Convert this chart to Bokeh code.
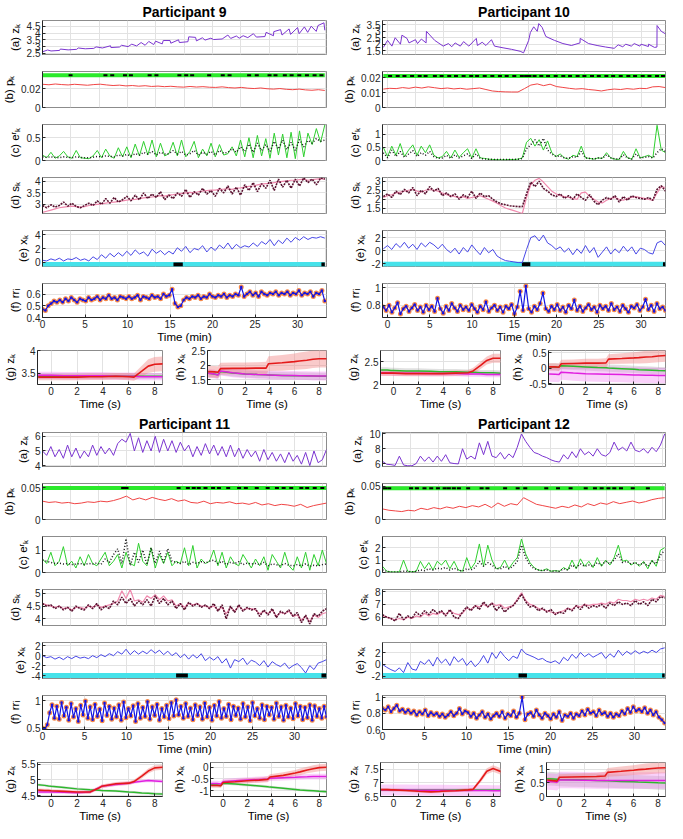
import numpy as np
from bokeh.plotting import figure
from bokeh.models import Range1d, FixedTicker, CustomJSTickFormatter
from bokeh.layouts import column, row
from bokeh.embed import file_html
from bokeh.resources import INLINE

# ---------------- DATA ----------------
TG = [-1, -0.5, -0.2, 0, 1, 2, 3, 3.7, 3.9, 5, 6, 6.4, 7, 7.5, 8, 8.7]

# Participant 9
P9_span = [0, 33.2]
P9_z = [2.62,2.68,2.72,2.76,2.80,2.84,2.87,2.90,2.93,2.97,3.00,3.05,3.10,3.15,3.20,3.25,3.30,
        3.36,3.42,3.48,3.52,3.56,3.60,3.62,3.66,3.70,3.74,3.80,3.85,3.90,3.95,4.05,4.12,4.20]
P9_z_peak_t = [0.6,2.1,4.2,6.3,8.0,9.3,10.5,11.6,12.5,13.3,14.2,15.0,16.0,17.2,18.0,18.8,19.8,21.8,22.8,
               23.6,24.8,26.3,27.2,28.0,29.0,30.0,30.8,31.6,32.4,33.1]
P9_z_peak_v = [2.75,2.82,2.9,2.98,3.06,3.1,3.18,3.3,3.38,3.4,3.45,3.45,3.5,3.72,3.68,3.65,3.62,3.85,3.78,
               3.8,3.95,4.05,4.1,4.25,4.3,4.4,4.45,4.5,4.55,4.75]
P9_p = [0.0245,0.0240,0.0248,0.0242,0.0238,0.0245,0.0240,0.0235,0.0242,0.0246,0.0238,0.0232,0.0236,0.0228,0.0232,
        0.0225,0.0230,0.0222,0.0226,0.0220,0.0224,0.0218,0.0215,0.0222,0.0216,0.0220,0.0214,0.0212,0.0218,0.0210,
        0.0206,0.0212,0.0204,0.0200,0.0206,0.0198,0.0194,0.0200,0.0192,0.0188,0.0194,0.0186,0.0182,0.0188,0.0180]
P9_p_level = [0.034]
P9_p_events = [3.3,7.4,8.2,9.7,10.4,12.6,13.4,16.1,16.9,17.6,19.6,21.2,22.0,24.3,25.2,26.7,27.4,28.5,29.3,30.2,31.1,32.0,32.8]
P9_er = [0.12,0.06,0.18,0.05,0.10,0.20,0.08,0.05,0.22,0.06,0.05,
         0.04,0.10,0.22,0.06,0.25,0.10,0.05,0.28,0.08,0.30,
         0.06,0.36,0.10,0.42,0.12,0.45,0.08,0.38,0.10,0.15,
         0.40,0.10,0.45,0.08,0.20,0.42,0.06,0.25,0.10,0.38,
         0.08,0.35,0.12,0.15,0.30,0.10,0.45,0.08,0.50,0.06,
         0.55,0.10,0.48,0.05,0.60,0.12,0.58,0.06,0.62,0.04,
         0.65,0.08,0.60,0.35,0.70,0.40,0.78]
P9_er_est = [0.08,0.07,0.08,0.07,0.06,0.08,0.07,0.06,0.08,0.07,0.06,
             0.06,0.07,0.09,0.08,0.10,0.09,0.08,0.12,0.10,0.13,
             0.10,0.15,0.12,0.18,0.14,0.20,0.12,0.18,0.14,0.15,
             0.22,0.14,0.20,0.12,0.15,0.22,0.12,0.18,0.14,0.20,
             0.12,0.22,0.16,0.18,0.26,0.18,0.30,0.20,0.36,0.18,
             0.38,0.22,0.35,0.20,0.42,0.25,0.45,0.24,0.40,0.22,
             0.46,0.30,0.44,0.38,0.48,0.42,0.45]
P9_s_est = [2.95,2.85,2.98,2.88,2.95,3.10,2.92,3.05,2.90,2.85,2.95,
            3.05,2.95,3.15,3.00,3.25,3.05,3.30,3.10,3.20,3.35,
            3.15,3.40,3.20,3.50,3.25,3.45,3.30,3.55,3.20,3.40,
            3.25,3.50,3.35,3.65,3.30,3.55,3.40,3.70,3.45,3.60,
            3.35,3.70,3.50,3.80,3.45,3.75,3.40,3.85,3.60,3.95,
            3.55,3.90,3.70,4.05,3.60,4.10,3.75,4.05,3.70,4.10,
            3.80,4.15,3.95,4.10,3.85,4.15,4.10]
P9_s = [2.65,2.70,2.75,2.80,2.85,2.88,2.90,2.92,2.90,2.88,2.90,
        2.95,2.98,3.00,3.02,3.05,3.08,3.10,3.12,3.15,3.18,
        3.20,3.22,3.25,3.28,3.30,3.32,3.35,3.38,3.36,3.40,
        3.42,3.45,3.48,3.50,3.52,3.50,3.55,3.58,3.60,3.62,
        3.62,3.65,3.66,3.68,3.65,3.70,3.72,3.75,3.78,3.80,
        3.85,3.88,3.90,3.92,3.95,3.98,4.00,4.02,4.05,4.05,
        4.08,4.10,4.05,4.08,4.10,4.12,4.10]
P9_x = [0.3,0.2,0.5,0.3,0.6,0.2,0.5,0.4,0.7,0.3,0.5,
        0.2,0.8,0.4,1.1,0.6,1.3,0.8,1.4,0.9,1.6,
        1.0,1.8,1.2,1.5,0.9,1.9,1.3,1.7,1.1,1.6,
        1.2,2.1,1.6,2.3,1.4,2.0,1.8,2.4,1.5,2.2,
        1.7,2.5,2.0,2.8,1.9,2.6,2.1,2.4,2.2,2.8,
        2.3,3.0,2.6,3.3,2.4,3.2,2.7,3.5,2.9,3.6,
        3.2,3.7,3.3,3.6,3.5,3.7,3.5]
P9_x_level = [-0.3]
P9_x_marks_start = [15.4, 32.8]
P9_x_marks_end = [16.5, 33.2]
P9_rr = [0.47,0.46,0.50,0.52,0.54,0.53,
         0.55,0.53,0.56,0.54,0.57,0.55,0.53,0.56,0.55,
         0.54,0.57,0.55,0.56,0.58,0.55,0.57,0.56,0.59,0.56,0.57,0.55,0.58,0.57,0.56,
         0.58,0.56,0.57,0.59,0.55,0.58,0.57,0.56,0.59,0.57,0.58,0.56,0.60,0.58,0.59,
         0.64,0.52,0.49,0.50,0.55,0.57,
         0.56,0.58,0.57,0.59,0.56,0.58,0.57,0.60,0.58,0.57,0.59,0.58,0.60,0.57,0.59,0.58,0.60,0.59,
         0.66,0.58,0.60,0.62,0.59,0.61,0.58,0.62,0.60,0.59,0.61,0.60,0.62,0.59,0.61,
         0.60,0.62,0.59,0.61,0.60,0.63,0.59,0.61,0.60,0.62,0.58,0.61,0.60,0.63,0.54]
P9_gz_red = [3.42,3.42,3.42,3.42,3.42,3.42,3.43,3.43,3.43,3.44,3.43,3.42,3.55,3.66,3.70,3.71]
P9_gz_red_sd = [0.07,0.07,0.07,0.07,0.07,0.07,0.07,0.07,0.07,0.07,0.08,0.08,0.12,0.15,0.16,0.16]
P9_gz_mag = [3.46,3.46,3.46,3.46,3.45,3.45,3.45,3.45,3.45,3.44,3.44,3.44,3.43,3.43,3.43,3.43]
P9_gz_mag_sd = [0.08]
P9_gz_grn = [3.44,3.44,3.44,3.44,3.44,3.44,3.44,3.44,3.44,3.44,3.44,3.44,3.44,3.44,3.44,3.44]
P9_gz_grn_sd = [0.06]
P9_hx_red = [1.78,1.77,1.76,1.88,1.89,1.89,1.90,1.90,2.05,2.08,2.12,2.14,2.17,2.20,2.22,2.22]
P9_hx_red_sd = [0.2,0.2,0.2,0.2,0.2,0.2,0.2,0.22,0.25,0.27,0.28,0.29,0.3,0.3,0.3,0.3]
P9_hx_mag = [1.72,1.70,1.66,1.80,1.74,1.70,1.68,1.67,1.66,1.65,1.65,1.64,1.64,1.63,1.63,1.63]
P9_hx_mag_sd = [0.15]
P9_hx_grn = [1.72,1.70,1.67,1.78,1.73,1.70,1.68,1.67,1.66,1.65,1.64,1.64,1.63,1.63,1.62,1.62]
P9_hx_grn_sd = [0.12]

# Participant 10
P10_span = [-0.5, 32.9]
P10_z = [1.75,1.85,2.0,2.1,2.05,2.1,2.3,1.85,1.8,1.85,1.85,1.9,1.9,1.85,1.72,1.6,1.45,
         2.3,3.0,2.6,2.3,2.05,1.9,2.1,2.05,1.9,1.78,1.68,1.8,1.85,1.85,1.82,1.78,2.8]
P10_z_peak_t = [0.0,0.9,1.7,2.3,3.3,4.0,4.6,7.2,8.0,9.0,10.5,11.2,12.3,16.1,16.9,17.3,17.9,18.3,22.8,
                27.3,28.2,29.2,30.0,30.9,31.6,31.9,32.4]
P10_z_peak_v = [2.3,2.5,2.7,2.45,2.35,2.4,3.0,2.05,2.1,2.2,2.45,2.15,2.35,1.33,2.9,3.35,3.6,3.3,2.45,
                1.95,2.0,2.05,2.0,2.0,1.75,3.45,3.0]
P10_p = [0.0125,0.0130,0.0128,0.0135,0.0130,0.0138,0.0132,0.0140,0.0134,0.0128,0.0132,0.0126,0.0130,0.0124,0.0128,
         0.0132,0.0122,0.0112,0.0108,0.0106,0.0105,0.0105,0.0128,0.0152,0.0160,0.0148,0.0158,0.0142,0.0136,0.0130,
         0.0125,0.0128,0.0122,0.0118,0.0112,0.0120,0.0125,0.0122,0.0128,0.0124,0.0130,0.0128,0.0140,0.0142,0.0135]
P10_p_level = [0.0214]
P10_p_events = [0.3,1.2,2.0,2.9,3.8,4.5,5.6,6.4,7.3,8.1,9.0,9.9,10.6,11.5,12.4,13.3,14.1,15.0,15.9,16.4,
                16.8,17.4,18.2,19.0,19.9,20.8,21.6,22.5,23.3,24.2,25.0,25.9,26.7,27.6,28.5,29.3,30.2,31.0,31.9,32.6]
P10_er = [0.50,0.15,0.55,0.20,0.65,0.15,0.40,0.60,0.20,0.55,0.30,0.60,
          0.20,0.10,0.15,0.35,0.10,0.40,0.12,0.30,0.45,0.10,
          0.45,0.10,0.08,0.05,0.04,0.03,0.03,0.03,0.04,0.04,
          0.05,0.10,0.70,0.85,0.55,0.80,0.40,0.75,0.30,0.15,
          0.25,0.10,0.05,0.20,0.15,0.55,0.10,0.08,0.05,0.10,
          0.08,0.30,0.10,0.05,0.04,0.35,0.10,0.05,0.45,0.10,
          0.15,0.20,0.10,1.35,0.40,0.30]
P10_er_est = [0.30,0.10,0.40,0.15,0.35,0.12,0.25,0.38,0.15,0.30,0.20,0.35,
              0.15,0.08,0.10,0.20,0.08,0.22,0.10,0.18,0.25,0.08,
              0.25,0.08,0.06,0.05,0.04,0.04,0.04,0.04,0.04,0.04,
              0.05,0.08,0.45,0.60,0.80,0.55,0.85,0.40,0.25,0.15,
              0.18,0.10,0.08,0.15,0.12,0.35,0.10,0.08,0.06,0.10,
              0.08,0.22,0.10,0.06,0.05,0.22,0.10,0.06,0.25,0.10,
              0.12,0.15,0.10,0.30,0.45,0.35]
P10_s_est = [2.15,2.30,2.10,2.45,2.25,2.55,2.35,2.65,2.20,2.50,2.30,2.70,
             2.45,2.60,2.20,2.35,2.15,2.30,2.00,2.25,2.10,2.45,
             2.05,2.35,2.15,2.20,2.00,1.85,1.75,1.70,1.65,1.62,
             1.60,1.60,2.30,2.95,2.70,3.00,2.60,2.45,2.25,2.15,
             2.30,2.05,2.20,2.00,2.30,2.10,1.95,2.25,1.90,1.70,
             1.95,2.10,2.00,2.20,1.85,2.15,1.95,2.20,2.10,2.05,
             2.00,2.10,1.95,2.55,2.75,2.45]
P10_s = [2.10,2.20,2.25,2.35,2.40,2.45,2.50,2.55,2.45,2.40,2.50,2.55,
         2.50,2.45,2.35,2.25,2.20,2.15,2.10,2.15,2.05,2.10,
         2.15,2.20,2.10,2.00,1.90,1.78,1.65,1.52,1.45,1.38,
         1.30,1.22,2.10,2.80,3.05,3.15,2.95,2.70,2.45,2.30,
         2.20,2.15,2.10,2.05,2.00,2.35,2.40,2.15,2.00,1.85,
         1.80,1.95,2.05,2.10,2.00,1.95,2.05,2.10,2.15,2.10,
         2.05,2.00,1.95,2.35,2.70,2.65]
P10_x = [0.3,0.8,0.2,1.1,0.5,1.3,0.4,1.0,0.2,1.2,0.6,1.3,
         0.9,0.3,1.0,0.2,-0.3,0.4,-0.5,0.5,-0.2,0.9,
         0.1,-0.6,0.5,-0.3,0.2,-0.8,-1.2,-1.5,-1.6,-1.7,
         -1.8,-1.8,0.2,2.0,2.3,1.5,2.4,1.2,0.8,0.2,
         0.6,-0.2,0.4,-0.6,0.3,-0.4,0.8,-0.3,0.5,-1.0,
         -0.2,0.6,-0.5,0.3,-0.3,0.7,-0.1,0.6,-0.5,0.4,
         0.2,-0.3,-0.5,1.2,1.5,0.8]
P10_x_level = [-2.05]
P10_x_marks_start = [15.9, 32.6]
P10_x_marks_end = [16.9, 32.9]
P10_rr = [0.78,0.74,0.80,0.72,0.77,0.83,0.70,0.76,0.79,0.73,
          0.77,0.81,0.74,0.78,0.72,0.80,0.75,0.79,0.73,0.88,
          0.76,0.71,0.79,0.74,0.82,0.77,0.73,0.80,0.75,0.78,
          0.74,0.81,0.76,0.72,0.79,0.75,0.84,0.73,0.77,0.80,
          0.74,0.78,0.72,0.79,0.76,0.81,0.70,0.78,0.96,0.74,
          1.02,0.76,0.72,0.79,0.75,0.82,0.94,0.76,0.73,0.79,
          0.75,0.81,0.74,0.78,0.72,0.80,0.76,0.86,0.74,0.79,
          0.73,0.77,0.81,0.75,0.78,0.72,0.80,0.76,0.79,0.74,
          0.82,0.75,0.78,0.73,0.80,0.76,0.72,0.79,0.77,0.81,
          0.74,0.78,0.87,0.75,0.80,0.73,0.82,0.76,0.78,0.74]
P10_gz_red = [2.25,2.25,2.25,2.25,2.24,2.24,2.24,2.24,2.24,2.25,2.26,2.30,2.42,2.53,2.58,2.58]
P10_gz_red_sd = [0.06,0.06,0.06,0.06,0.06,0.06,0.06,0.06,0.06,0.06,0.06,0.07,0.08,0.09,0.1,0.1]
P10_gz_mag = [2.26,2.26,2.26,2.25,2.25,2.25,2.24,2.24,2.24,2.24,2.23,2.23,2.23,2.22,2.22,2.22]
P10_gz_mag_sd = [0.06]
P10_gz_grn = [2.32,2.32,2.31,2.31,2.30,2.30,2.29,2.28,2.28,2.28,2.27,2.27,2.26,2.26,2.26,2.25]
P10_gz_grn_sd = [0.06]
P10_hx_red = [0.05,0.05,0.04,0.15,0.16,0.17,0.17,0.18,0.30,0.32,0.34,0.35,0.37,0.38,0.40,0.42]
P10_hx_red_sd = [0.12,0.12,0.12,0.13,0.13,0.14,0.14,0.15,0.16,0.17,0.18,0.19,0.2,0.2,0.2,0.2]
P10_hx_mag = [-0.18,-0.19,-0.20,-0.12,-0.15,-0.17,-0.18,-0.19,-0.19,-0.20,-0.21,-0.21,-0.22,-0.22,-0.23,-0.23]
P10_hx_mag_sd = [0.25]
P10_hx_grn = [0.05,0.05,0.04,0.09,0.07,0.05,0.03,0.02,0.01,-0.01,-0.03,-0.04,-0.05,-0.06,-0.07,-0.08]
P10_hx_grn_sd = [0.12]

# Participant 11
P11_span = [0, 33.8]
P11_z = [5.0,4.7,5.3,4.6,5.1,4.5,5.4,4.6,5.2,4.5,5.0,
         4.6,5.4,4.7,5.3,4.8,5.2,4.7,5.5,5.8,5.6,
         6.2,5.0,5.9,4.9,5.7,5.0,6.0,4.9,5.8,5.0,
         5.7,4.9,5.6,5.0,5.4,4.6,5.3,4.7,5.5,4.8,
         5.4,4.7,5.3,4.6,5.4,4.6,5.2,4.5,5.1,4.6,
         5.0,4.3,5.1,4.4,4.9,4.3,4.8,4.2,4.9,4.3,
         4.7,4.1,4.9,4.0,5.0,4.2,4.4,5.1]
P11_p = [0.029,0.027,0.028,0.026,0.027,0.025,0.026,0.028,0.027,0.029,0.028,0.030,0.033,0.037,0.031,
         0.034,0.031,0.035,0.032,0.030,0.033,0.029,0.031,0.027,0.026,0.029,0.025,0.027,0.026,0.028,
         0.025,0.026,0.024,0.027,0.023,0.025,0.022,0.024,0.023,0.021,0.024,0.019,0.022,0.024,0.026]
P11_p_level = [0.05]
P11_p_events = [9.6,10.0,16.2,17.3,18.0,18.6,19.4,20.3,21.0,22.1,23.4,24.2,25.5,26.8,27.9,28.7,29.6,30.8,31.5,32.4,33.3]
P11_er = [0.6,0.4,0.9,0.3,0.5,1.15,0.3,0.5,0.2,0.7,0.3,
          0.8,0.4,0.3,0.6,0.9,0.3,0.5,0.8,0.2,0.9,
          0.4,0.3,1.3,0.5,0.3,1.1,0.2,0.8,0.4,0.9,
          0.3,0.5,0.4,1.1,0.3,1.2,0.2,0.6,0.4,0.5,
          1.0,0.3,0.9,0.2,0.7,0.4,0.3,0.8,0.5,0.2,
          0.6,0.3,0.7,0.1,0.8,0.5,0.2,0.9,0.3,0.1,
          0.7,0.2,0.9,0.1,0.8,0.3,1.0,0.4]
P11_er_est = [0.55,0.50,0.45,0.40,0.42,0.38,0.40,0.35,0.38,0.40,0.36,
              0.40,0.38,0.42,0.36,0.60,0.45,0.80,1.05,0.40,1.50,
              0.30,0.90,0.45,1.00,0.35,1.10,0.40,0.95,0.45,1.05,
              0.50,0.45,0.40,0.50,0.35,0.45,0.40,0.48,0.42,0.50,
              0.55,0.40,0.50,0.35,0.45,0.40,0.48,0.35,0.42,0.38,
              0.40,0.35,0.45,0.30,0.38,0.35,0.30,0.40,0.32,0.30,
              0.35,0.30,0.38,0.28,0.32,0.30,0.35,0.38]
P11_s_est = [4.60,4.50,4.55,4.40,4.50,4.35,4.45,4.30,4.50,4.40,4.35,
             4.55,4.40,4.60,4.35,4.50,4.40,4.70,4.55,4.85,4.60,
             4.80,4.50,4.70,4.55,4.75,4.50,4.90,4.60,4.80,4.55,
             4.70,4.40,4.60,4.35,4.65,4.50,4.60,4.45,4.55,4.40,
             4.60,4.30,4.55,4.00,4.50,4.25,4.55,4.30,4.45,4.35,
             4.40,4.10,4.35,4.15,4.40,4.05,4.30,4.20,4.35,4.10,
             4.25,3.85,4.15,3.80,4.20,4.10,4.30,4.40]
P11_s = [4.60,4.55,4.50,4.45,4.50,4.40,4.45,4.35,4.45,4.45,4.40,
         4.50,4.45,4.55,4.45,4.50,4.55,4.60,4.70,5.10,4.80,
         5.15,4.70,4.75,4.65,4.90,4.80,4.95,4.75,4.90,4.70,
         4.75,4.50,4.60,4.45,4.60,4.55,4.60,4.50,4.50,4.45,
         4.50,4.35,4.45,4.20,4.45,4.30,4.50,4.35,4.40,4.40,
         4.35,4.20,4.30,4.20,4.35,4.10,4.25,4.20,4.30,4.10,
         4.15,3.95,4.10,3.90,4.15,4.05,4.20,4.25]
P11_x = [0.0,-0.4,-0.2,-0.7,-0.3,-0.8,-0.2,-0.6,-0.1,-0.5,-0.3,
         -0.6,0.0,-0.4,0.2,-0.2,0.4,0.0,0.8,0.3,1.3,
         0.2,1.0,0.3,0.9,0.4,1.2,0.5,1.1,0.2,0.9,
         0.0,0.6,-0.4,0.3,-0.7,0.2,-0.5,0.4,-1.0,-0.3,
         -0.9,-0.2,-1.5,-0.6,-2.5,-0.8,-1.2,-0.5,-1.8,-0.9,
         -1.3,-2.0,-1.0,-2.3,-1.2,-1.8,-2.2,-1.5,-2.6,-2.0,
         -1.6,-2.4,-3.5,-2.0,-2.8,-1.5,-1.2,-0.8]
P11_x_level = [-4.0]
P11_x_marks_start = [15.9, 33.2]
P11_x_marks_end = [17.3, 33.8]
P11_rr = [0.50,0.48,0.56,0.78,0.93,0.68,0.90,0.66,0.97,0.72,
          0.88,0.64,0.95,0.70,0.86,0.62,0.92,0.74,1.00,0.68,
          0.89,0.65,0.94,0.71,0.85,0.63,0.96,0.73,0.90,0.66,
          0.87,0.70,0.93,0.64,0.98,0.69,0.86,0.72,0.91,0.62,
          0.95,0.68,0.88,0.71,0.99,0.66,0.89,0.73,0.94,0.64,
          0.86,0.70,0.92,0.67,0.97,0.72,1.02,0.74,0.90,0.68,
          0.95,0.71,0.87,0.65,0.93,0.73,0.89,0.66,0.96,0.70,
          0.88,0.64,0.92,0.72,0.99,0.68,0.86,0.71,0.94,0.65,
          0.90,0.73,0.87,0.66,0.95,0.70,0.89,0.63,0.97,0.72,
          0.86,0.68,0.93,0.65,0.90,0.74,0.88,0.66,0.96,0.71,
          0.89,0.64,0.92,0.70,0.87,0.67,0.95,0.72,0.90,0.65,
          0.88,0.69,0.93,0.64,0.91,0.71,0.86,0.68,0.90,0.70]
P11_gz_red = [4.68,4.67,4.67,4.66,4.64,4.62,4.62,4.75,4.80,4.88,4.90,4.95,5.12,5.28,5.38,5.40]
P11_gz_red_sd = [0.05,0.05,0.05,0.05,0.05,0.05,0.05,0.05,0.06,0.06,0.06,0.06,0.07,0.08,0.08,0.08]
P11_gz_mag = [4.62,4.62,4.62,4.62,4.61,4.60,4.62,4.76,4.80,4.86,4.90,4.93,4.96,4.98,4.97,4.95]
P11_gz_mag_sd = [0.05]
P11_gz_grn = [4.85,4.83,4.81,4.80,4.76,4.72,4.69,4.68,4.67,4.65,4.62,4.61,4.59,4.58,4.57,4.56]
P11_gz_grn_sd = [0.04]
P11_hx_red = [-0.78,-0.78,-0.79,-0.65,-0.62,-0.58,-0.55,-0.52,-0.42,-0.35,-0.25,-0.20,-0.12,-0.07,-0.02,0.00]
P11_hx_red_sd = [0.1,0.1,0.1,0.1,0.1,0.11,0.11,0.12,0.12,0.13,0.13,0.14,0.14,0.15,0.15,0.15]
P11_hx_mag = [-0.70,-0.70,-0.72,-0.62,-0.58,-0.55,-0.52,-0.50,-0.47,-0.45,-0.43,-0.42,-0.41,-0.40,-0.40,-0.40]
P11_hx_mag_sd = [0.12]
P11_hx_grn = [-0.75,-0.76,-0.78,-0.68,-0.72,-0.76,-0.80,-0.83,-0.85,-0.90,-0.95,-0.97,-0.99,-1.01,-1.03,-1.05]
P11_hx_grn_sd = [0.06]

# Participant 12
P12_span = [0, 33.6]
P12_z = [6.3,5.9,5.85,5.75,7.0,5.8,5.7,5.7,6.0,7.0,6.3,
         6.9,6.2,7.0,6.3,7.2,6.1,6.0,5.95,8.0,6.6,
         7.0,6.6,8.8,7.2,9.0,7.0,6.8,7.5,6.6,7.3,
         6.8,8.2,10.0,9.0,8.2,7.5,7.3,7.0,6.8,6.5,
         6.3,6.2,7.2,6.6,7.6,6.8,8.0,7.2,7.6,7.0,
         8.0,7.2,7.0,7.5,8.9,7.8,8.2,7.7,8.9,7.8,
         7.6,8.0,7.4,8.2,7.6,8.5,10.0]
P12_p = [0.016,0.014,0.013,0.012,0.014,0.013,0.017,0.015,0.018,0.016,0.019,0.017,0.020,0.018,0.021,
         0.019,0.023,0.018,0.025,0.020,0.024,0.022,0.033,0.028,0.023,0.021,0.019,0.017,0.020,0.018,
         0.022,0.019,0.024,0.021,0.025,0.023,0.027,0.024,0.026,0.028,0.025,0.027,0.030,0.032,0.033]
P12_p_level = [0.0473]
P12_p_events = [0.3,0.8,3.4,4.1,5.0,5.8,6.6,7.4,7.9,8.5,9.1,10.2,11.8,12.5,14.6,16.1,17.0,19.5,20.9,
                22.4,24.2,25.3,26.1,26.9,27.6,28.4,29.8,31.6]
P12_er = [0.5,0.1,0.05,0.05,0.05,1.0,0.1,0.05,0.1,0.9,0.3,
          0.8,0.2,0.9,0.6,1.0,0.3,0.9,0.2,0.1,1.2,
          0.3,0.8,2.3,0.5,2.2,1.0,0.3,0.4,1.0,0.3,
          0.8,1.2,2.7,1.5,0.8,0.4,0.2,0.15,0.3,0.1,
          0.15,0.1,0.4,0.2,1.0,0.3,1.1,0.5,0.9,0.4,
          1.2,0.5,1.0,0.6,1.2,2.2,0.9,1.0,0.6,0.8,
          0.5,0.9,0.3,1.0,0.5,1.8,2.0]
P12_er_est = [0.2,0.1,0.05,0.05,0.05,0.1,0.1,0.05,0.1,0.2,0.15,
              0.3,0.2,0.35,0.3,0.4,0.2,0.35,0.2,0.1,0.3,
              0.2,0.4,0.9,0.5,0.8,0.6,0.3,0.3,0.5,0.3,
              0.5,0.9,2.2,1.2,0.6,0.3,0.2,0.15,0.2,0.1,
              0.12,0.1,0.3,0.2,0.6,0.4,0.7,0.5,0.6,0.5,
              0.8,0.6,0.9,0.7,1.0,1.5,0.8,0.9,0.7,0.8,
              0.6,0.8,0.5,0.9,0.7,1.4,1.8]
P12_s_est = [6.2,6.0,5.9,5.7,6.3,5.8,6.1,5.9,6.4,6.1,6.5,
             6.2,6.6,6.3,6.5,6.1,6.6,6.0,5.9,6.4,6.8,
             6.5,6.9,6.6,7.2,6.8,7.1,6.5,6.9,6.4,6.7,
             6.9,7.3,7.8,7.2,6.8,6.9,6.5,6.7,6.4,6.6,
             6.2,6.4,6.3,6.7,6.5,6.9,6.6,7.0,6.7,6.9,
             6.8,7.0,6.7,7.1,6.9,7.2,7.0,7.1,6.9,7.3,
             7.0,7.2,6.9,7.4,7.2,7.6,7.5]
P12_s = [6.1,6.0,5.9,5.8,5.9,5.8,6.0,5.9,6.1,6.0,6.3,
         6.1,6.3,6.2,6.4,6.2,6.5,6.3,6.2,6.3,6.7,
         6.6,6.9,6.8,7.0,6.8,7.1,6.9,7.0,6.7,6.8,
         6.9,7.4,7.9,7.3,7.0,6.9,6.7,6.6,6.5,6.4,
         6.3,6.4,6.5,6.7,6.6,6.9,6.8,7.0,6.9,7.0,
         7.0,7.1,7.0,7.2,7.1,7.4,7.3,7.3,7.2,7.4,
         7.3,7.4,7.3,7.5,7.4,7.7,7.6]
P12_x = [0.0,-0.5,-0.9,-1.2,-0.6,-1.4,0.3,-0.8,-1.0,0.5,0.0,
         0.8,-0.3,1.2,0.2,0.9,-0.2,1.3,0.4,1.0,-0.2,
         0.6,-0.4,0.3,1.5,0.2,2.0,1.0,2.2,1.3,0.6,
         1.4,1.0,2.6,1.8,1.5,1.2,0.8,1.0,0.5,0.3,
         0.6,0.1,1.2,0.6,1.7,1.0,2.0,1.3,1.8,1.2,
         1.6,2.0,1.0,1.8,1.2,2.4,1.5,2.2,1.7,2.3,
         1.8,2.2,1.9,2.4,2.0,2.6,2.8]
P12_x_level = [-1.9]
P12_x_marks_start = [16.2, 33.3]
P12_x_marks_end = [17.2, 33.6]
P12_rr = [0.86,0.84,0.88,0.82,0.86,0.90,0.83,0.85,0.81,0.84,
          0.80,0.83,0.78,0.82,0.79,0.84,0.77,0.81,0.78,0.80,
          0.76,0.79,0.75,0.78,0.82,0.77,0.80,0.86,0.79,0.83,
          0.81,0.76,0.80,0.74,0.78,0.82,0.75,0.79,0.73,0.77,
          0.80,0.76,0.82,0.74,0.79,0.77,0.83,0.75,0.80,1.00,
          0.72,0.79,0.81,0.76,0.84,0.78,0.74,0.80,0.77,0.73,
          0.79,0.75,0.82,0.71,0.78,0.76,0.80,0.74,0.79,0.77,
          0.83,0.78,0.85,0.80,0.82,0.77,0.84,0.79,0.81,0.76,
          0.80,0.75,0.79,0.77,0.83,0.79,0.86,0.81,0.88,0.83,
          0.85,0.82,0.87,0.80,0.84,0.78,0.82,0.75,0.72,0.68]
P12_gz_red = [6.75,6.75,6.74,6.74,6.72,6.69,6.67,6.68,6.69,6.71,6.74,6.76,7.10,7.42,7.52,7.40]
P12_gz_red_sd = [0.05,0.05,0.05,0.05,0.05,0.05,0.05,0.05,0.05,0.05,0.06,0.06,0.09,0.11,0.12,0.12]
P12_gz_mag = [6.74,6.74,6.74,6.74,6.74,6.73,6.73,6.73,6.73,6.72,6.72,6.72,6.72,6.72,6.71,6.71]
P12_gz_mag_sd = [0.2]
P12_gz_grn = [6.74,6.74,6.74,6.74,6.74,6.74,6.74,6.74,6.74,6.74,6.74,6.74,6.74,6.74,6.74,6.74]
P12_gz_grn_sd = [0.06]
P12_hx_red = [0.60,0.58,0.56,0.70,0.71,0.72,0.73,0.75,0.88,0.92,0.96,0.98,1.00,1.02,1.04,1.05]
P12_hx_red_sd = [0.1,0.1,0.1,0.11,0.12,0.13,0.14,0.15,0.16,0.17,0.18,0.19,0.2,0.2,0.2,0.2]
P12_hx_mag = [0.55,0.54,0.52,0.60,0.60,0.59,0.58,0.58,0.58,0.58,0.58,0.58,0.58,0.58,0.58,0.58]
P12_hx_mag_sd = [0.3]
P12_hx_grn = [0.65,0.64,0.63,0.62,0.61,0.60,0.58,0.57,0.57,0.55,0.54,0.53,0.52,0.51,0.50,0.49]
P12_hx_grn_sd = [0.25]

# axis configuration (ranges / ticks)
CFG = {
    9: dict(xr=(0, 33.4), a=((2.42, 4.92), [2.5, 3, 3.5, 4, 4.5]), b=((0, 0.038), [0, 0.02]),
            c=((0, 0.79), [0, 0.5]), d=((2.6, 4.17), [3, 3.5, 4]), e=((-0.6, 4.6), [0, 2, 4]),
            f=((0.4, 0.69), [0.4, 0.5, 0.6]), g=((3.26, 4.0), [3.5, 4]), h=((1.34, 2.5), [1.5, 2, 2.5])),
    10: dict(xr=(-0.6, 32.9), a=((1.2, 3.84), [1.5, 2, 2.5, 3, 3.5]), b=((0, 0.0244), [0, 0.01, 0.02]),
             c=((0, 1.38), [0, 0.5, 1]), d=((1.22, 3.2), [1.5, 2, 2.5, 3]), e=((-2.4, 3.1), [-2, 0, 2]),
             f=((0.66, 1.05), [0.8, 1]), g=((2.0, 2.75), [2, 2.5]), h=((-0.52, 0.58), [-0.5, 0, 0.5])),
    11: dict(xr=(0, 33.8), a=((3.94, 6.26), [4, 5, 6]), b=((0, 0.057), [0, 0.05]),
             c=((0, 1.6), [0, 1]), d=((3.74, 5.15), [4, 4.5, 5]), e=((-4.6, 2.65), [-4, -2, 0, 2]),
             f=((0.47, 1.1), [0.5, 1]), g=((4.48, 5.55), [4.5, 5, 5.5]), h=((-1.25, 0.2), [-1, -0.5, 0])),
    12: dict(xr=(0, 33.7), a=((5.6, 10.2), [6, 8, 10]), b=((0, 0.0545), [0, 0.05]),
             c=((0, 2.9), [0, 1, 2]), d=((5.35, 8.16), [6, 7, 8]), e=((-2.4, 3.7), [-2, 0, 2]),
             f=((0.6, 1.02), [0.6, 0.8, 1]), g=((6.5, 7.74), [6.5, 7, 7.5]), h=((0, 1.24), [0, 0.5, 1])),
}

FONT = "Liberation Sans"
TXT = "#262626"
FMT = CustomJSTickFormatter(code="return String(Number(tick.toFixed(4)));")


def mkfig(width, height, xr, yr, mbl, mbr, mbt, mbb, xticks, yticks, ylabel,
          xlabels=False, xlabel=None, title=None):
    kw = dict(width=width, height=height, x_range=Range1d(*xr), y_range=Range1d(*yr),
              output_backend="svg", toolbar_location=None,
              min_border_left=mbl, min_border_right=mbr, min_border_top=mbt, min_border_bottom=mbb)
    if title:
        kw["title"] = title
    p = figure(**kw)
    if title:
        p.title.align = "center"
        p.title.text_font = FONT
        p.title.text_font_size = "14px"
        p.title.text_font_style = "bold"
        p.title.text_color = "#000000"
        p.title.standoff = 2
        p.title.offset = 0
    p.outline_line_color = "#6f6f6f"
    p.outline_line_width = 0.8
    p.xaxis.ticker = FixedTicker(ticks=list(xticks))
    p.yaxis.ticker = FixedTicker(ticks=list(yticks))
    p.xgrid.ticker = FixedTicker(ticks=list(xticks))
    p.ygrid.ticker = FixedTicker(ticks=list(yticks))
    p.xgrid.grid_line_color = "#e2e2e2"
    p.ygrid.grid_line_color = "#e2e2e2"
    for ax in (p.xaxis[0], p.yaxis[0]):
        ax.formatter = FMT
        ax.major_tick_in = 3
        ax.major_tick_out = 0
        ax.minor_tick_line_color = None
        ax.axis_line_color = TXT
        ax.major_tick_line_color = TXT
        ax.major_label_text_font = FONT
        ax.major_label_text_font_size = "10px"
        ax.major_label_text_color = TXT
        ax.major_label_standoff = 2
        ax.axis_label_text_font = FONT
        ax.axis_label_text_font_style = "normal"
        ax.axis_label_text_font_size = "11.5px"
        ax.axis_label_text_color = "#000000"
        ax.axis_label_standoff = 3
    p.yaxis.axis_label = ylabel
    if xlabels:
        p.xaxis.axis_label = xlabel
        p.xaxis.axis_label_standoff = 0
    else:
        p.xaxis.visible = False
    return p


def tline(arr, span):
    return np.linspace(span[0], span[1], len(arr))


def band(arr, sd):
    c = np.asarray(arr, dtype=float)
    s = np.broadcast_to(np.asarray(sd, dtype=float), c.shape)
    return c - s, c + s


def block(num, left):
    pre = "P%d_" % num
    D = {k[len(pre):]: v for k, v in globals().items() if k.startswith(pre)}
    C = CFG[num]
    span = D["span"]
    if left:
        W, mbl, mbr = 340, 36, 14
        gw, gl, gr, hw_, hl, hr = 170, 36, 8, 170, 36, 14
    else:
        W, mbl, mbr = 327, 40, 2
        gw, gl, gr, hw_, hl, hr = 168, 40, 8, 159, 38, 2
    xr = C["xr"]
    xt_small = list(np.arange(0, 34, 10.0 / 3))
    figs = []

    pa = mkfig(W, 62, xr, C["a"][0], mbl, mbr, 18, 8, xt_small, C["a"][1], "(a) zₖ",
               title="Participant %d" % num)
    zt = list(tline(D["z"], span))
    zv = list(D["z"])
    if "z_peak_t" in D:
        zt += list(D["z_peak_t"])
        zv += list(D["z_peak_v"])
        order = np.argsort(zt, kind="stable")
        zt = list(np.asarray(zt)[order])
        zv = list(np.asarray(zv)[order])
    pa.line(zt, zv, color="#7B35D0", line_width=1)
    figs.append(pa)

    pb = mkfig(W, 53, xr, C["b"][0], mbl, mbr, 9, 8, xt_small, C["b"][1], "(b) pₖ")
    lv = D["p_level"][0]
    pb.line(span, [lv, lv], color="#2BEA2B", line_width=4)
    pb.scatter(D["p_events"], [lv] * len(D["p_events"]), marker="dash", size=4, line_width=2,
               line_color="black")
    pb.line(tline(D["p"], span), D["p"], color="#F04545", line_width=1)
    figs.append(pb)

    pc = mkfig(W, 53, xr, C["c"][0], mbl, mbr, 9, 8, xt_small, C["c"][1], "(c) eʳₖ")
    pc.line(tline(D["er"], span), D["er"], color="#2FCF2F", line_width=1)
    pc.line(tline(D["er_est"], span), D["er_est"], color="#1a1a1a", line_width=1.5, line_dash="1 2")
    figs.append(pc)

    pd = mkfig(W, 53, xr, C["d"][0], mbl, mbr, 9, 8, xt_small, C["d"][1], "(d) sₖ")
    pd.line(tline(D["s"], span), D["s"], color="#F08AAE", line_width=1.2)
    pd.line(tline(D["s_est"], span), D["s_est"], color="#5A1230", line_width=1.6, line_dash="2 1")
    figs.append(pd)

    pe = mkfig(W, 53, xr, C["e"][0], mbl, mbr, 9, 8, xt_small, C["e"][1], "(e) xₖ")
    lv = D["x_level"][0]
    pe.line(span, [lv, lv], color="#45E2EA", line_width=5)
    pe.segment(D["x_marks_start"], [lv] * 2, D["x_marks_end"], [lv] * 2, color="black", line_width=4)
    pe.line(tline(D["x"], span), D["x"], color="#4848E6", line_width=1)
    figs.append(pe)

    pf = mkfig(W, 71, xr, C["f"][0], mbl, mbr, 9, 26, [0, 5, 10, 15, 20, 25, 30], C["f"][1], "(f) rrᵢ",
               xlabels=True, xlabel="Time (min)")
    tr = tline(D["rr"], span)
    pf.scatter(tr, D["rr"], size=5, color="#F5894A", line_color=None)
    pf.line(tr, D["rr"], color="#1515E0", line_width=1.2)
    pf.scatter(tr, D["rr"], size=2.5, color="#1515E0", line_color=None)
    figs.append(pf)

    smalls = []
    for key, w, l, r, lab in (("gz", gw, gl, gr, "(g) zₖ"), ("hx", hw_, hl, hr, "(h) xₖ")):
        yr, yt = C["g" if key == "gz" else "h"]
        p = mkfig(w, 67, (-1.05, 8.6), yr, l, r, 5, 28, [0, 2, 4, 6, 8], yt, lab,
                  xlabels=True, xlabel="Time (s)")
        lo, hi = band(D[key + "_grn"], D[key + "_grn_sd"])
        p.varea(TG, lo, hi, fill_color="#A8A8A8", fill_alpha=0.35)
        lo, hi = band(D[key + "_mag"], D[key + "_mag_sd"])
        p.varea(TG, lo, hi, fill_color="#F07CF0", fill_alpha=0.35)
        lo, hi = band(D[key + "_red"], D[key + "_red_sd"])
        p.varea(TG, lo, hi, fill_color="#F28A8A", fill_alpha=0.45)
        p.line(TG, D[key + "_grn"], color="#2DB82D", line_width=1.5)
        p.line(TG, D[key + "_mag"], color="#E020E0", line_width=1.5)
        p.line(TG, D[key + "_red"], color="#E41A1A", line_width=1.6)
        smalls.append(p)
    figs.append(row(*smalls))
    return column(*figs)


layout = column(row(block(9, True), block(10, False)),
                row(block(11, True), block(12, False)))

open("out.html", "w").write(file_html(layout, INLINE, title="Participants"))
